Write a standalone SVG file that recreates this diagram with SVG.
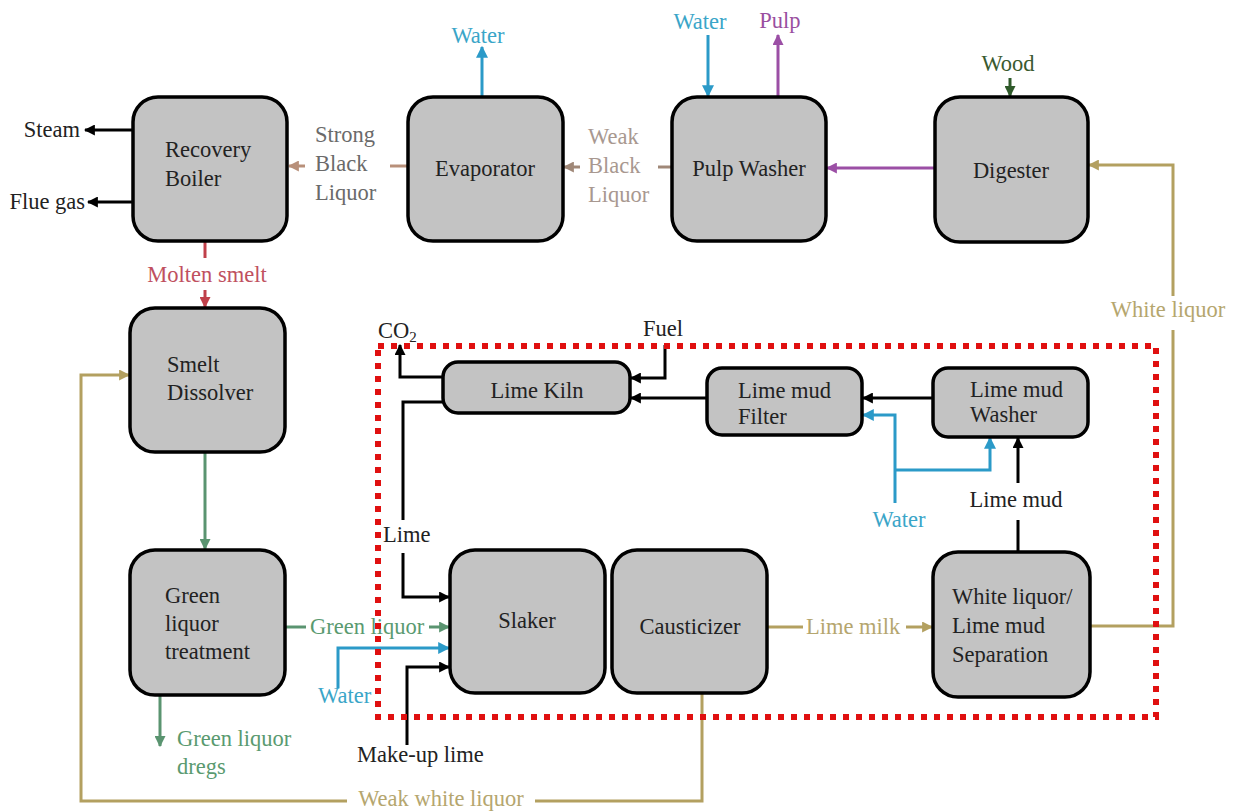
<svg xmlns="http://www.w3.org/2000/svg" width="1242" height="812" viewBox="0 0 1242 812" font-family="'Liberation Serif', 'DejaVu Serif', serif">
<defs>
<style>
text{font-family:'Liberation Serif','DejaVu Serif',serif;font-size:22.5px;fill:#222}
.node rect{fill:#c3c3c3;stroke:#000;stroke-width:3.5}
.c{fill:none;stroke-width:3}
.k{stroke:#000}.b{stroke:#2b9ac8}.p{stroke:#9b4fa5}.o{stroke:#b3a060}.g{stroke:#5a9470}.r{stroke:#c0404a}.br{stroke:#b8907a}.wb{stroke:#a08878}.dg{stroke:#2f5a2a}
.tb{fill:#3aa5c8}.tp{fill:#9a4fa0}.to{fill:#b5a66e}.tg{fill:#5a9a70}.tr{fill:#c05060}.ts{fill:#6a6a6a}.tw{fill:#a89890}.tdg{fill:#3a5a30}
</style>
<marker id="ak" viewBox="0 0 10 10" refX="9" refY="5" markerWidth="11" markerHeight="11" markerUnits="userSpaceOnUse" orient="auto"><path d="M0,0L10,5L0,10z" fill="#000"/></marker>
<marker id="ab" viewBox="0 0 10 10" refX="9" refY="5" markerWidth="12" markerHeight="12" markerUnits="userSpaceOnUse" orient="auto"><path d="M0,0L10,5L0,10z" fill="#2b9ac8"/></marker>
<marker id="ap" viewBox="0 0 10 10" refX="9" refY="5" markerWidth="11" markerHeight="11" markerUnits="userSpaceOnUse" orient="auto"><path d="M0,0L10,5L0,10z" fill="#9b4fa5"/></marker>
<marker id="ao" viewBox="0 0 10 10" refX="9" refY="5" markerWidth="11" markerHeight="11" markerUnits="userSpaceOnUse" orient="auto"><path d="M0,0L10,5L0,10z" fill="#b3a060"/></marker>
<marker id="ag" viewBox="0 0 10 10" refX="9" refY="5" markerWidth="11" markerHeight="11" markerUnits="userSpaceOnUse" orient="auto"><path d="M0,0L10,5L0,10z" fill="#5a9470"/></marker>
<marker id="ar" viewBox="0 0 10 10" refX="9" refY="5" markerWidth="11" markerHeight="11" markerUnits="userSpaceOnUse" orient="auto"><path d="M0,0L10,5L0,10z" fill="#c0404a"/></marker>
<marker id="abr" viewBox="0 0 10 10" refX="9" refY="5" markerWidth="11" markerHeight="11" markerUnits="userSpaceOnUse" orient="auto"><path d="M0,0L10,5L0,10z" fill="#b8907a"/></marker>
<marker id="awb" viewBox="0 0 10 10" refX="9" refY="5" markerWidth="11" markerHeight="11" markerUnits="userSpaceOnUse" orient="auto"><path d="M0,0L10,5L0,10z" fill="#a08878"/></marker>
<marker id="adg" viewBox="0 0 10 10" refX="9" refY="5" markerWidth="11" markerHeight="11" markerUnits="userSpaceOnUse" orient="auto"><path d="M0,0L10,5L0,10z" fill="#2f5a2a"/></marker>
</defs>
<rect width="1242" height="812" fill="#fff"/>

<g id="connectors">
<path class="c k" d="M133,130H85" marker-end="url(#ak)"/>
<path class="c k" d="M133,202H88" marker-end="url(#ak)"/>
<path class="c br" d="M408,166H390"/>
<path class="c br" d="M305,166H289" marker-end="url(#abr)"/>
<path class="c b" d="M482,97V47" marker-end="url(#ab)"/>
<path class="c wb" d="M672,167H658"/>
<path class="c wb" d="M580,167H564" marker-end="url(#awb)"/>
<path class="c b" d="M708,35V96" marker-end="url(#ab)"/>
<path class="c p" d="M778,97V35" marker-end="url(#ap)"/>
<path class="c dg" d="M1010,78V96" marker-end="url(#adg)"/>
<path class="c p" d="M935,168H827" marker-end="url(#ap)"/>
<path class="c o" d="M1090,626H1173V330"/>
<path class="c o" d="M1173,296V165H1089" marker-end="url(#ao)"/>
<path class="c r" d="M205,242V258"/>
<path class="c r" d="M205,290V307" marker-end="url(#ar)"/>
<path class="c g" d="M205,452V549" marker-end="url(#ag)"/>
<path class="c g" d="M160,695V746" marker-end="url(#ag)"/>
<path class="c g" d="M285,627H306"/>
<path class="c g" d="M429,627H449" marker-end="url(#ag)"/>
<path class="c b" d="M338,688V648H449" marker-end="url(#ab)"/>
<path class="c k" d="M407,745V667H449" marker-end="url(#ak)"/>
<path class="c k" d="M443,402H403V520"/>
<path class="c k" d="M403,553V597H449" marker-end="url(#ak)"/>
<path class="c k" d="M443,377H400V345" marker-end="url(#ak)"/>
<path class="c k" d="M665,345V378H631" marker-end="url(#ak)"/>
<path class="c k" d="M707,398H631" marker-end="url(#ak)"/>
<path class="c k" d="M933,398H863" marker-end="url(#ak)"/>
<path class="c b" d="M895,503V415H863" marker-end="url(#ab)"/>
<path class="c b" d="M895,470H990V438" marker-end="url(#ab)"/>
<path class="c k" d="M1018,552V520"/>
<path class="c k" d="M1018,483V438" marker-end="url(#ak)"/>
<path class="c o" d="M767,627H803"/>
<path class="c o" d="M906,627H932" marker-end="url(#ao)"/>
<path class="c o" d="M702,693V801H535"/>
<path class="c o" d="M347,801H81V375H129" marker-end="url(#ao)"/>
</g>

<g id="labels">
<text x="80" y="137" text-anchor="end">Steam</text>
<text x="85" y="209" text-anchor="end">Flue gas</text>
<text class="ts" x="315" y="142">Strong</text>
<text class="ts" x="315" y="171">Black</text>
<text class="ts" x="315" y="200">Liquor</text>
<text class="tb" x="478" y="43" text-anchor="middle">Water</text>
<text class="tw" x="588" y="144">Weak</text>
<text class="tw" x="588" y="173">Black</text>
<text class="tw" x="588" y="202">Liquor</text>
<text class="tb" x="700" y="29" text-anchor="middle">Water</text>
<text class="tp" x="780" y="28" text-anchor="middle">Pulp</text>
<text class="tdg" x="1008" y="71" text-anchor="middle">Wood</text>
<text class="to" x="1168" y="317" text-anchor="middle">White liquor</text>
<text class="tr" x="207" y="282" text-anchor="middle">Molten smelt</text>
<text class="tg" x="177" y="746">Green liquor</text>
<text class="tg" x="177" y="774">dregs</text>
<text class="tg" x="310" y="634">Green liquor</text>
<text class="tb" x="318" y="703">Water</text>
<text x="357" y="762">Make-up lime</text>
<text x="383" y="542">Lime</text>
<text x="378" y="338">CO<tspan font-size="15" dy="4">2</tspan></text>
<text x="643" y="336">Fuel</text>
<text class="tb" x="899" y="527" text-anchor="middle">Water</text>
<text x="1016" y="507" text-anchor="middle">Lime mud</text>
<text class="to" x="806" y="634">Lime milk</text>
<text class="to" x="441" y="806" text-anchor="middle">Weak white liquor</text>
</g>

<g id="recovery-boiler" class="node"><rect x="133" y="97" width="154" height="144" rx="25"/><text x="165" y="157">Recovery</text><text x="165" y="186">Boiler</text></g>
<g id="evaporator" class="node"><rect x="408" y="97" width="155" height="144" rx="25"/><text x="485" y="176" text-anchor="middle">Evaporator</text></g>
<g id="pulp-washer" class="node"><rect x="672" y="97" width="154" height="144" rx="25"/><text x="749" y="176" text-anchor="middle">Pulp Washer</text></g>
<g id="digester" class="node"><rect x="935" y="97" width="153" height="145" rx="25"/><text x="1011" y="178" text-anchor="middle">Digester</text></g>
<g id="smelt-dissolver" class="node"><rect x="130" y="308" width="155" height="144" rx="25"/><text x="167" y="372">Smelt</text><text x="167" y="400">Dissolver</text></g>
<g id="green-liquor-treatment" class="node"><rect x="130" y="550" width="155" height="145" rx="25"/><text x="165" y="603">Green</text><text x="165" y="631">liquor</text><text x="165" y="659">treatment</text></g>
<g id="slaker" class="node"><rect x="450" y="550" width="155" height="143" rx="25"/><text x="527" y="628" text-anchor="middle">Slaker</text></g>
<g id="causticizer" class="node"><rect x="612" y="550" width="155" height="143" rx="25"/><text x="690" y="634" text-anchor="middle">Causticizer</text></g>
<g id="separation" class="node"><rect x="933" y="552" width="157" height="145" rx="25"/><text x="952" y="604">White liquor/</text><text x="952" y="633">Lime mud</text><text x="952" y="662">Separation</text></g>
<g id="lime-kiln" class="node"><rect x="443" y="362" width="187" height="51" rx="15"/><text x="537" y="398" text-anchor="middle">Lime Kiln</text></g>
<g id="lime-mud-filter" class="node"><rect x="707" y="368" width="155" height="67" rx="15"/><text x="738" y="398">Lime mud</text><text x="738" y="424">Filter</text></g>
<g id="lime-mud-washer" class="node"><rect x="933" y="368" width="155" height="69" rx="15"/><text x="970" y="397">Lime mud</text><text x="970" y="422">Washer</text></g>

<g id="boundary"><rect x="378" y="346" width="778" height="371" fill="none" stroke="#e01010" stroke-width="6" stroke-dasharray="6 7"/></g>
</svg>
